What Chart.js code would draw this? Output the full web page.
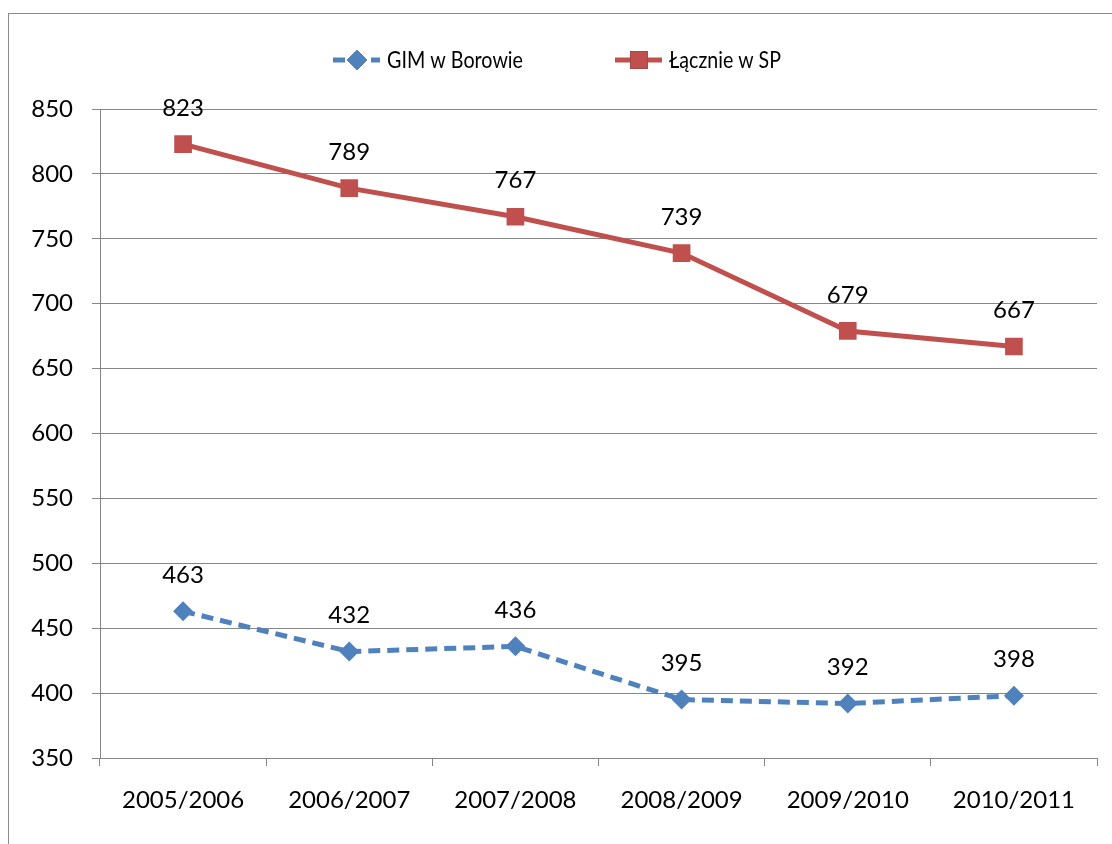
<!DOCTYPE html>
<html>
<head>
<meta charset="utf-8">
<script src="https://cdn.jsdelivr.net/npm/chart.js@4.4.1/dist/chart.umd.min.js"></script>
<style>
    html, body { margin: 0; padding: 0; background: #fff; overflow: hidden; }
    #frame { position: absolute; left: 8px; top: 13px; width: 1200px; height: 900px; border: 1px solid #8a8a8a; }
    #wrap { position: absolute; left: 0; top: 0; width: 1112px; height: 844px; }
</style>
</head>
<body>
<div id="frame"></div>
<div id="wrap"><canvas id="lineChart" width="1112" height="844"></canvas></div>
<script>
const years = ['2005/2006', '2006/2007', '2007/2008', '2008/2009', '2009/2010', '2010/2011']
const gimBorowie = [463, 432, 436, 395, 392, 398]
const lacznieSP = [823, 789, 767, 739, 679, 667]
const seriesNames = ['GIM w Borowie', 'Łącznie w SP']
const yMin = 350, yMax = 850, yStep = 50

const FONT = 'Lato, "Open Sans", sans-serif'
const BLUE = '#4F81BD'
const RED = '#C0504D'
const GRID = '#868686'

// values drawn above every point
const valueLabels = {
    id: 'valueLabels',
    afterDatasetsDraw(chart) {
        const ctx = chart.ctx;
        ctx.save();
        ctx.font = '24px ' + FONT;
        ctx.fillStyle = '#000';
        ctx.textAlign = 'center';
        ctx.textBaseline = 'middle';
        chart.data.datasets.forEach(function (ds, i) {
            chart.getDatasetMeta(i).data.forEach(function (pt, j) {
                ctx.fillText(ds.data[j], pt.x, pt.y - 36);
            });
        });
        ctx.restore();
    }
}

// legend with line + marker, like the office chart
const lineLegend = {
    id: 'lineLegend',
    afterDraw(chart) {
        const ctx = chart.ctx;
        const items = [
            { x: 333, w: 136, ds: chart.data.datasets[0] },
            { x: 615, w: 112, ds: chart.data.datasets[1] }
        ];
        const y = 60;
        ctx.save();
        ctx.font = '24px ' + FONT;
        ctx.textBaseline = 'middle';
        items.forEach(function (it) {
            const ds = it.ds;
            ctx.strokeStyle = ds.borderColor;
            ctx.lineWidth = ds.borderWidth;
            ctx.setLineDash(ds.borderDash || []);
            ctx.beginPath();
            ctx.moveTo(it.x, y);
            ctx.lineTo(it.x + 47, y);
            ctx.stroke();
            ctx.setLineDash([]);
            Chart.helpers.drawPoint(ctx, {
                pointStyle: ds.pointStyle,
                radius: ds.pointRadius,
                borderWidth: 0
            }, it.x + 24, y);
            ctx.fillStyle = ds.pointBackgroundColor;
            ctx.fill();
            ctx.fillStyle = '#000';
            // calibri is narrower than lato, squeeze the text a bit
            ctx.fillText(ds.label, it.x + 54, y, it.w);
        });
        ctx.restore();
    }
}

new Chart(document.getElementById('lineChart'), {
    type: 'line',
    data: {
        labels: years,
        datasets: [{
            label: seriesNames[0],
            data: gimBorowie,
            borderColor: BLUE,
            borderWidth: 5,
            borderDash: [12, 7],
            pointStyle: 'rectRot',
            pointRadius: 10,
            pointBackgroundColor: BLUE,
            pointBorderColor: BLUE,
            pointBorderWidth: 0,
            tension: 0
        }, {
            label: seriesNames[1],
            data: lacznieSP,
            borderColor: RED,
            borderWidth: 5,
            pointStyle: 'rect',
            pointRadius: 12.5,
            pointBackgroundColor: RED,
            pointBorderColor: RED,
            pointBorderWidth: 0,
            tension: 0
        }]
    },
    options: {
        responsive: false,
        animation: false,
        layout: {
            padding: { top: 109, right: 15, bottom: 0, left: 0 }
        },
        plugins: {
            legend: { display: false },
            tooltip: { enabled: false }
        },
        scales: {
            x: {
                offset: true,
                grid: {
                    offset: true,
                    drawOnChartArea: false,
                    drawTicks: true,
                    tickLength: 8,
                    color: GRID
                },
                border: { display: true, color: GRID },
                ticks: {
                    font: { family: FONT, size: 24 },
                    color: '#000',
                    padding: 20,
                    maxRotation: 0
                },
                afterFit: function (scale) { scale.height = 86; }
            },
            y: {
                min: yMin,
                max: yMax,
                grid: {
                    color: GRID,
                    lineWidth: 1,
                    tickLength: 8
                },
                border: { display: true, color: GRID },
                ticks: {
                    stepSize: yStep,
                    font: { family: FONT, size: 24 },
                    color: '#000',
                    padding: 19
                },
                afterFit: function (scale) { scale.width = 100; }
            }
        }
    },
    plugins: [valueLabels, lineLegend]
});
</script>
</body>
</html>
